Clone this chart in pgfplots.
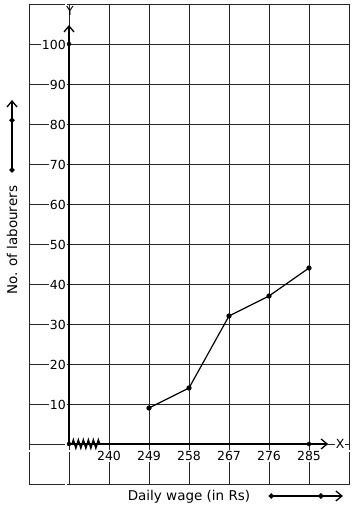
\documentclass[border=0pt]{standalone}
\usepackage{pgfplots}
\pgfplotsset{compat=1.18}
\usepackage{fontspec}
\setmainfont{DejaVu Sans}
\usetikzlibrary{arrows.meta,decorations.pathmorphing}
\begin{document}
\begin{tikzpicture}[x=1pt,y=1pt]
\useasboundingbox (0,0) rectangle (354,510);
\begin{axis}[at={(29pt,26pt)}, anchor=south west, scale only axis,
  width=320pt, height=480pt,
  xmin=222, xmax=294, ymin=-10, ymax=110,
  xtick={222,231,...,294}, xticklabels={,,240,249,258,267,276,285,},
  ytick={-10,0,...,110}, yticklabels={,,10,20,30,40,50,60,70,80,90,100,},
  grid=major, major grid style={black!85, line width=0.6pt},
  axis line style={black!85, line width=0.6pt},
  major tick length=0pt,
  /pgf/number format/assume math mode=true,
  tick label style={font=\fontsize{12.5}{15}\selectfont},
  xticklabel style={anchor=north, yshift=34pt, fill=white, inner sep=1pt},
  yticklabel style={anchor=east, xshift=38pt, yshift=-1pt, fill=white, inner sep=1pt},
  clip=false,
  label style={font=\fontsize{13.5}{16}\selectfont},
  xlabel={Daily wage (in Rs)},
  xlabel style={at={(axis description cs:0.5,-0.027)}, anchor=center},
  ylabel={No. of labourers},
  ylabel style={at={(axis description cs:-0.053,0.5075)}, anchor=center},
]
% thick axes
\draw[line width=2.2pt, -{Straight Barb[length=6pt,width=10pt,line width=1.3pt]}] (axis cs:231,0) -- (axis cs:231,104.75);
\draw[line width=2.2pt, -{Straight Barb[length=6pt,width=10pt,line width=1.3pt]}] (axis cs:231,0) -- (axis cs:289.3,0);
% kink
\draw[line width=1.5pt, decorate, decoration={zigzag, segment length=5pt, amplitude=4pt}] (axis cs:231.7,0) -- (axis cs:238,0);
% data
\addplot[black, line width=1.2pt, mark=*, mark size=2pt] coordinates {(249,9)(258,14)(267,32)(276,37)(285,44)};
\addplot[black, only marks, mark=*, mark size=2pt] coordinates {(231,0)(231,100)(285,0)};
% axis names
\node[fill=white, inner sep=1pt, font=\fontsize{12.5}{15}\selectfont] at (axis cs:292,0) {X};
\node[font=\fontsize{12.5}{15}\selectfont] at (axis cs:231.2,108.2) {Y};
% annotation arrows
\draw[line width=2pt, {Circle[length=5pt]}-{Circle[length=5pt]}] (axis description cs:-0.053,0.649) -- (axis description cs:-0.053,0.763);
\draw[line width=2pt, -{Straight Barb[length=6pt,width=10pt,line width=1.3pt]}] (axis description cs:-0.053,0.758) -- (axis description cs:-0.053,0.800);
\draw[line width=2pt, {Circle[length=5pt]}-{Circle[length=5pt]}] (axis description cs:0.749,-0.025) -- (axis description cs:0.920,-0.025);
\draw[line width=2pt, -{Straight Barb[length=6pt,width=10pt,line width=1.3pt]}] (axis description cs:0.9125,-0.025) -- (axis description cs:0.981,-0.025);
\end{axis}
\end{tikzpicture}
\end{document}
